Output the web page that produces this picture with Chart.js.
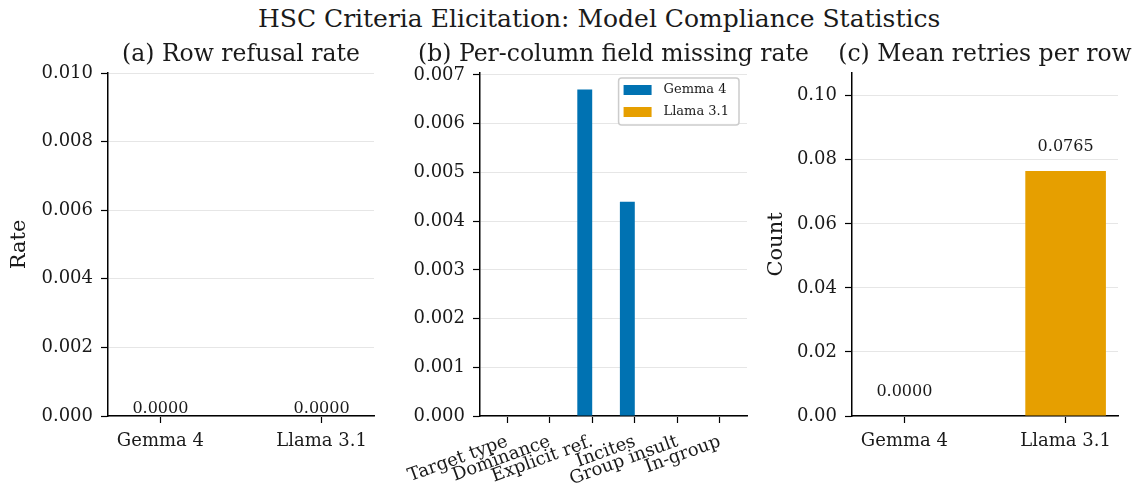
<!DOCTYPE html>
<html>
<head>
<meta charset="utf-8">
<script src="https://cdn.jsdelivr.net/npm/chart.js@4.4.0/dist/chart.umd.min.js"></script>
<style>
  body { margin: 0; background: #fff; width: 1138px; height: 491px; position: relative; overflow: hidden; font-family: 'DejaVu Serif', serif; }
  #suptitle { position: absolute; left: 258px; top: 4px; font-size: 25px; line-height: 30px; color: #1a1a1a; white-space: nowrap; }
  canvas { position: absolute; top: 30px; }
</style>
</head>
<body>
<div id="suptitle">HSC Criteria Elicitation: Model Compliance Statistics</div>
<canvas id="chartA" width="380" height="461" style="left:0px"></canvas>
<canvas id="chartB" width="450" height="461" style="left:380px"></canvas>
<canvas id="chartC" width="378" height="461" style="left:760px"></canvas>
<script>
const models = ["Gemma 4", "Llama 3.1"];
const modelColors = ["#0072B2", "#E69F00"];
const refusalRate = [0, 0];

const fields = ["Target type", "Dominance", "Explicit ref.", "Incites", "Group insult", "In-group"];
const gemmaMissing = [0, 0, 0.0067, 0.0044, 0, 0];
const llamaMissing = [0, 0, 0, 0, 0, 0];

const meanRetries = [0, 0.0765];

const textColor = "#1a1a1a";
Chart.defaults.font.family = "'DejaVu Serif', serif";
Chart.defaults.color = textColor;

// subplot title, centred over the plot area
function panelTitle(text) {
    return {
        id: "panelTitle",
        afterDraw(chart) {
            const a = chart.chartArea;
            const ctx = chart.ctx;
            ctx.save();
            ctx.font = "23.5px 'DejaVu Serif'";
            ctx.fillStyle = textColor;
            ctx.textAlign = "center";
            ctx.textBaseline = "middle";
            ctx.fillText(text, (a.left + a.right) / 2, a.top - 18);
            ctx.restore();
        }
    };
}

// value labels over the bars (a) and (c)
function valueLabels(gap) {
    return {
        id: "valueLabels",
        afterDatasetsDraw(chart) {
            const ctx = chart.ctx;
            ctx.save();
            ctx.font = "16px 'DejaVu Serif'";
            ctx.fillStyle = textColor;
            ctx.textAlign = "center";
            ctx.textBaseline = "alphabetic";
            chart.getDatasetMeta(0).data.forEach((bar, i) => {
                const v = chart.data.datasets[0].data[i].y;
                ctx.fillText(v.toFixed(4), bar.x, bar.y - gap);
            });
            ctx.restore();
        }
    };
}

// boxed legend in the upper right of (b)
const boxLegend = {
    id: "boxLegend",
    afterDraw(chart) {
        const ctx = chart.ctx;
        const area = chart.chartArea;
        const sets = chart.data.datasets;
        ctx.save();
        ctx.font = "13px 'DejaVu Serif'";
        const textW = Math.max(...sets.map(d => ctx.measureText(d.label).width));
        const w = 45 + textW + 10;
        const h = 47;
        const x = area.right - 8 - w;
        const y = area.top + 5;
        ctx.fillStyle = "rgba(255,255,255,0.85)";
        ctx.strokeStyle = "#cccccc";
        ctx.lineWidth = 1.5;
        ctx.beginPath();
        ctx.roundRect(x, y, w, h, 3);
        ctx.fill();
        ctx.stroke();
        sets.forEach((d, i) => {
            const cy = y + 12 + i * 22;
            ctx.fillStyle = d.backgroundColor;
            ctx.fillRect(x + 5, cy - 5, 28, 10);
            ctx.fillStyle = textColor;
            ctx.textBaseline = "middle";
            ctx.fillText(d.label, x + 45, cy);
        });
        ctx.restore();
    }
};

function yAxis(max, step, digits, width, label, labelPad) {
    return {
        type: "linear",
        min: 0,
        max: max,
        border: { color: "#000", width: 1.5 },
        grid: { color: "#e6e6e6", lineWidth: 1, tickColor: "#000", tickLength: 7, tickWidth: 1.2 },
        ticks: {
            stepSize: step,
            includeBounds: false,
            padding: 8,
            font: { size: 18 },
            color: textColor,
            callback: v => v.toFixed(digits)
        },
        title: {
            display: !!label,
            text: label,
            font: { size: 21 },
            color: textColor,
            padding: { top: labelPad, bottom: 0 }
        },
        afterFit: s => { s.width = width; }
    };
}

function xAxis(labels, min, max, rotation, pad) {
    return {
        type: "linear",
        min: min,
        max: max,
        offset: false,
        border: { color: "#000", width: 1.5 },
        grid: { offset: false, drawOnChartArea: false, tickColor: "#000", tickLength: 7, tickWidth: 1.2 },
        afterBuildTicks: s => { s.ticks = labels.map((l, i) => ({ value: i })); },
        ticks: {
            autoSkip: false,
            minRotation: rotation,
            maxRotation: rotation,
            padding: pad,
            font: { size: 18 },
            color: textColor,
            callback: v => labels[Math.round(v)]
        },
        afterFit: s => { s.height = 75; }
    };
}

const common = {
    responsive: false,
    animation: false,
    events: []
};

// (a) Row refusal rate
new Chart(document.getElementById("chartA"), {
    type: "bar",
    data: {
        datasets: [{
            data: models.map((m, i) => ({ x: i, y: refusalRate[i] })),
            backgroundColor: modelColors,
            categoryPercentage: 0.5,
            barPercentage: 1
        }]
    },
    options: {
        ...common,
        layout: { padding: { left: 0, right: 6, top: 43, bottom: 0 } },
        plugins: { legend: { display: false }, tooltip: { enabled: false } },
        scales: {
            x: xAxis(models, -0.325, 1.325, 0, 8),
            y: yAxis(0.01, 0.002, 3, 108, "Rate", 7)
        }
    },
    plugins: [valueLabels(3), panelTitle("(a) Row refusal rate")]
});

// (b) Per-column field missing rate
new Chart(document.getElementById("chartB"), {
    type: "bar",
    data: {
        datasets: [
            { label: "Gemma 4", data: fields.map((f, i) => ({ x: i, y: gemmaMissing[i] })), backgroundColor: modelColors[0], categoryPercentage: 0.7, barPercentage: 1 },
            { label: "Llama 3.1", data: fields.map((f, i) => ({ x: i, y: llamaMissing[i] })), backgroundColor: modelColors[1], categoryPercentage: 0.7, barPercentage: 1 }
        ]
    },
    options: {
        ...common,
        layout: { padding: { left: 0, right: 83, top: 43, bottom: 0 } },
        plugins: { legend: { display: false }, tooltip: { enabled: false } },
        scales: {
            x: xAxis(fields, -0.635, 5.635, 20, 8),
            y: yAxis(0.00704, 0.001, 3, 100, "", 0)
        }
    },
    plugins: [boxLegend, panelTitle("(b) Per-column field missing rate")]
});

// (c) Mean retries per row
new Chart(document.getElementById("chartC"), {
    type: "bar",
    data: {
        datasets: [{
            data: models.map((m, i) => ({ x: i, y: meanRetries[i] })),
            backgroundColor: modelColors,
            categoryPercentage: 0.5,
            barPercentage: 1
        }]
    },
    options: {
        ...common,
        layout: { padding: { left: 0, right: 20, top: 43, bottom: 0 } },
        plugins: { legend: { display: false }, tooltip: { enabled: false } },
        scales: {
            x: xAxis(models, -0.325, 1.325, 0, 8),
            y: yAxis(0.1071, 0.02, 2, 92, "Count", 4)
        }
    },
    plugins: [valueLabels(20), panelTitle("(c) Mean retries per row")]
});
</script>
</body>
</html>
